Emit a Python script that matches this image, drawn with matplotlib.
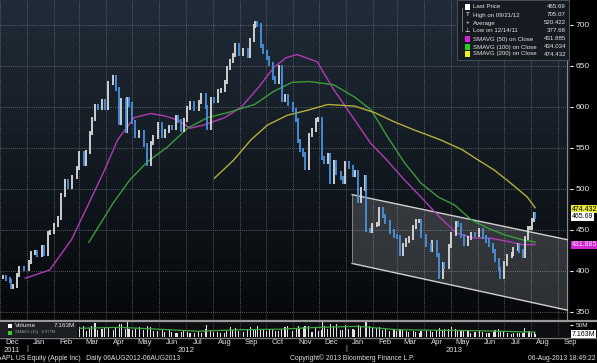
import matplotlib
matplotlib.use('Agg')
import matplotlib.pyplot as plt
import matplotlib.dates as mdates
import matplotlib.transforms as mtrans
from matplotlib.colors import LinearSegmentedColormap
from matplotlib.patches import Rectangle
import numpy as np
import pandas as pd

plt.rcParams['font.family'] = ['Liberation Sans', 'DejaVu Sans']

# price closes (every 2-3 sessions)
dates = [
    '2011-12-05', '2011-12-08', '2011-12-12', '2011-12-14', '2011-12-16', '2011-12-20', '2011-12-23', '2011-12-28', '2012-01-03', '2012-01-06',
    '2012-01-10', '2012-01-13', '2012-01-18', '2012-01-20', '2012-01-25', '2012-01-27', '2012-02-01', '2012-02-06', '2012-02-09', '2012-02-14',
    '2012-02-17', '2012-02-22', '2012-02-27', '2012-03-01', '2012-03-06', '2012-03-09', '2012-03-13', '2012-03-15', '2012-03-19', '2012-03-22',
    '2012-03-27', '2012-03-30', '2012-04-03', '2012-04-09', '2012-04-12', '2012-04-16', '2012-04-18', '2012-04-23', '2012-04-25', '2012-04-27',
    '2012-05-01', '2012-05-04', '2012-05-09', '2012-05-14', '2012-05-18', '2012-05-22', '2012-05-25', '2012-05-30', '2012-06-04', '2012-06-07',
    '2012-06-12', '2012-06-15', '2012-06-20', '2012-06-22', '2012-06-26', '2012-06-29', '2012-07-03', '2012-07-06', '2012-07-11', '2012-07-16',
    '2012-07-19', '2012-07-24', '2012-07-25', '2012-07-30', '2012-08-02', '2012-08-07', '2012-08-10', '2012-08-15', '2012-08-17', '2012-08-21',
    '2012-08-24', '2012-08-27', '2012-08-31', '2012-09-05', '2012-09-10', '2012-09-13', '2012-09-17', '2012-09-19', '2012-09-21', '2012-09-25',
    '2012-09-28', '2012-10-02', '2012-10-05', '2012-10-09', '2012-10-12', '2012-10-16', '2012-10-19', '2012-10-23', '2012-10-26', '2012-11-01',
    '2012-11-05', '2012-11-07', '2012-11-09', '2012-11-13', '2012-11-15', '2012-11-19', '2012-11-23', '2012-11-27', '2012-11-30', '2012-12-04',
    '2012-12-05', '2012-12-07', '2012-12-11', '2012-12-14', '2012-12-18', '2012-12-21', '2012-12-26', '2012-12-28', '2012-12-31', '2013-01-04',
    '2013-01-09', '2013-01-11', '2013-01-15', '2013-01-18', '2013-01-23', '2013-01-24', '2013-01-28', '2013-01-31', '2013-02-05', '2013-02-08',
    '2013-02-12', '2013-02-15', '2013-02-20', '2013-02-25', '2013-02-28', '2013-03-04', '2013-03-07', '2013-03-11', '2013-03-14', '2013-03-19',
    '2013-03-22', '2013-03-26', '2013-03-28', '2013-04-03', '2013-04-08', '2013-04-10', '2013-04-15', '2013-04-18', '2013-04-22', '2013-04-24',
    '2013-04-29', '2013-05-02', '2013-05-07', '2013-05-09', '2013-05-13', '2013-05-16', '2013-05-21', '2013-05-24', '2013-05-29', '2013-06-03',
    '2013-06-07', '2013-06-11', '2013-06-14', '2013-06-19', '2013-06-21', '2013-06-25', '2013-06-27', '2013-07-01', '2013-07-05', '2013-07-10',
    '2013-07-12', '2013-07-17', '2013-07-19', '2013-07-23', '2013-07-25', '2013-07-29', '2013-07-31', '2013-08-02', '2013-08-05', '2013-08-06',
]
closes = [
    393, 390, 388, 380, 382, 395, 403, 402, 411, 422,
    423, 419, 429, 420, 446, 447, 456, 464, 493, 509,
    502, 514, 525, 544, 530, 545, 568, 585, 601, 599,
    607, 599, 629, 636, 622, 580, 608, 571, 610, 603,
    582, 565, 569, 554, 531, 556, 563, 579, 565, 571,
    576, 574, 588, 583, 572, 584, 599, 605, 598, 606,
    614, 600, 574, 610, 607, 620, 621, 630, 648, 656,
    663, 675, 665, 670, 662, 682, 699, 702, 700, 674,
    667, 660, 652, 635, 630, 649, 609, 613, 604, 596,
    584, 558, 547, 542, 525, 566, 572, 584, 585, 576,
    538, 533, 541, 509, 533, 519, 513, 509, 532, 527,
    517, 520, 485, 500, 514, 450, 449, 456, 457, 475,
    467, 460, 448, 442, 441, 420, 431, 437, 440, 454,
    461, 461, 442, 431, 426, 435, 419, 392, 408, 405,
    430, 445, 458, 456, 443, 433, 440, 445, 444, 450,
    441, 437, 431, 424, 413, 402, 393, 409, 418, 420,
    427, 431, 424, 418, 440, 452, 452, 462, 469, 466,
]
volumes = [  # millions
    28, 26, 24, 36, 32, 22, 18, 16, 22, 20,
    18, 24, 20, 34, 62, 30, 28, 22, 40, 36,
    34, 26, 32, 40, 46, 24, 36, 44, 56, 30,
    34, 40, 36, 30, 42, 52, 54, 34, 66, 32,
    28, 34, 42, 30, 46, 42, 24, 24, 32, 22,
    28, 20, 18, 16, 22, 28, 20, 18, 16, 24,
    18, 32, 48, 24, 22, 20, 16, 16, 24, 40,
    28, 36, 24, 22, 34, 42, 30, 34, 46, 32,
    30, 26, 34, 30, 26, 24, 34, 40, 44, 24,
    36, 44, 32, 42, 46, 44, 20, 36, 24, 28,
    60, 46, 34, 52, 44, 54, 28, 28, 48, 34,
    32, 30, 50, 42, 42, 72, 46, 38, 36, 40,
    30, 32, 24, 28, 26, 32, 30, 24, 20, 26,
    20, 16, 24, 28, 24, 20, 28, 38, 28, 34,
    32, 42, 32, 28, 24, 30, 24, 18, 22, 24,
    20, 18, 18, 20, 28, 32, 24, 20, 18, 14,
    16, 18, 16, 18, 38, 26, 24, 16, 22, 14,
]

# moving averages
sma50_dates = ['2011-12-30', '2012-01-27', '2012-02-21', '2012-03-10', '2012-03-30', '2012-04-14', '2012-05-03',
               '2012-05-22', '2012-06-07', '2012-06-22', '2012-07-06', '2012-07-22', '2012-08-15', '2012-09-03',
               '2012-09-22', '2012-10-10', '2012-10-24', '2012-11-06', '2012-11-29', '2012-12-18', '2013-01-11',
               '2013-01-29', '2013-02-17', '2013-03-09', '2013-03-28', '2013-04-18', '2013-05-08', '2013-05-28',
               '2013-06-15', '2013-07-05', '2013-07-22', '2013-08-06']
sma50 = [391, 401, 438, 478, 523, 560, 587, 592, 589, 584, 574, 578, 587, 600, 623, 648, 660, 664, 655,
         621, 584, 556, 535, 511, 490, 466, 446, 440, 440, 436, 432, 432]
sma100_dates = ['2012-03-12', '2012-04-09', '2012-04-28', '2012-05-18', '2012-06-10', '2012-07-03', '2012-07-26',
                '2012-08-18', '2012-09-18', '2012-10-10', '2012-10-31', '2012-11-20', '2012-12-18', '2013-01-11',
                '2013-01-30', '2013-02-18', '2013-03-09', '2013-03-28', '2013-04-17', '2013-05-06', '2013-05-25',
                '2013-06-13', '2013-07-02', '2013-07-22', '2013-08-06']
sma100 = [435, 483, 511, 533, 551, 574, 587, 593, 603, 619, 630, 631, 627, 612, 596, 563, 532, 507, 490,
          480, 462, 452, 444, 438, 435]
sma200_dates = ['2012-08-03', '2012-08-25', '2012-09-14', '2012-10-03', '2012-10-26', '2012-11-18', '2012-12-11',
                '2013-01-11', '2013-02-03', '2013-02-25', '2013-03-20', '2013-04-19', '2013-05-14', '2013-06-02',
                '2013-06-20', '2013-07-09', '2013-07-28', '2013-08-06']
sma200 = [513, 535, 560, 578, 590, 596, 603, 601, 593, 582, 572, 560, 548, 535, 523, 507, 490, 477]
volsma_dates = ['2012-03-01', '2012-04-15', '2012-06-01', '2012-07-15', '2012-09-01', '2012-10-15',
                '2012-12-01', '2013-01-15', '2013-03-01', '2013-04-15', '2013-06-01', '2013-07-15', '2013-08-06']
volsma = [36, 40, 32, 24, 30, 32, 40, 44, 30, 28, 26, 22, 20]

# trend channel
channel_dates = ['2013-01-08', '2013-09-12']
channel_upper = [493, 438]
channel_lower = [409, 352]

legend_names = ['Last Price', 'High on 09/21/12', 'Average', 'Low on 12/14/11',
                'SMAVG (50) on Close', 'SMAVG (100) on Close', 'SMAVG (200) on Close']
legend_values = ['465.69', '705.07', '520.422', '377.68', '431.885', '434.034', '474.432']

W, H = 597, 363
fig = plt.figure(figsize=(W / 100, H / 100), dpi=100, facecolor='black')


def fx(x):
    return x / W


def fy(y):
    return 1 - y / H


def dnum(s):
    return mdates.date2num(pd.to_datetime(s, format='mixed'))


ax = fig.add_axes([0, fy(320), fx(570), 320 / H])
axv = fig.add_axes([0, fy(337), fx(570), 15 / H], sharex=ax)

d = dnum(dates)
c = np.array(closes, dtype=float)
opens = np.concatenate([[c[0]], c[:-1]])

# background gradient
cmap = LinearSegmentedColormap.from_list('bg', ['#06080a', '#131a22', '#212c38'])
grad = np.linspace(0, 1, 256).reshape(-1, 1)
ax.imshow(grad, extent=[0, 1, 0, 1], transform=ax.transAxes, aspect='auto',
          cmap=cmap, origin='lower', zorder=0)

xl = dnum(['2011-12-05 12:00', '2013-09-12 00:00'])
ax.set_xlim(*xl)
ax.set_ylim(340, 730.5)

months = pd.date_range('2011-12-01', '2013-09-01', freq='MS')
mids = months + pd.Timedelta(days=14)
ax.set_xticks(mdates.date2num(months))
ax.set_yticks(range(350, 701, 50))
ax.grid(True, color='#6c737b', linestyle=(0, (1, 1.5)), linewidth=0.6, zorder=1)
ax.tick_params(axis='x', length=0, labelbottom=False)
ax.yaxis.tick_right()
ax.tick_params(axis='y', colors='white', length=2.5, width=0.8, pad=1.5, labelsize=6,
               labelcolor='#e6e6e6')
for s in ax.spines.values():
    s.set_visible(False)
ax.axvline(xl[1], color='#8a8a8a', lw=0.8)

# channel
cd = dnum(channel_dates)
ax.fill([cd[0], cd[1], cd[1], cd[0]],
        [channel_upper[0], channel_upper[1], channel_lower[1], channel_lower[0]],
        facecolor='#ffffff', alpha=0.16, edgecolor='none', zorder=2)
ax.plot(cd, channel_upper, color='#d0d0d0', lw=1, zorder=3)
ax.plot(cd, channel_lower, color='#d0d0d0', lw=1, zorder=3)
ax.plot([cd[0], cd[0]], [channel_lower[0], channel_upper[0]], color='#909090', lw=0.6, zorder=3)

# bars
up = c >= opens
lo = np.minimum(opens, c) - 2.5
hi = np.maximum(opens, c) + 2.5
ax.vlines(d[up], lo[up], hi[up], color='#dcdcdc', lw=1.3, zorder=5)
ax.vlines(d[~up], lo[~up], hi[~up], color='#4a92e0', lw=1.3, zorder=5)

ax.plot(dnum(sma50_dates), sma50, color='#b03cb4', lw=1, zorder=4)
ax.plot(dnum(sma100_dates), sma100, color='#3a9c3a', lw=1, zorder=4)
ax.plot(dnum(sma200_dates), sma200, color='#b4ae3a', lw=1, zorder=4)

# volume panel
axv.set_facecolor('#0c0e11')
axv.bar(d, volumes, width=1.3, color='#e4e4e4', zorder=3)
axv.plot(dnum(volsma_dates), volsma, color='#3ea83e', lw=0.9, zorder=4)
axv.set_ylim(0, 62)
axv.set_xlim(*xl)
axv.set_yticks([50])
axv.set_yticklabels(['50M'])
axv.yaxis.tick_right()
axv.tick_params(axis='y', colors='white', length=2.5, width=0.8, pad=1.5, labelsize=4.6,
                labelcolor='#e6e6e6')
axv.set_xticks(mdates.date2num(months))
axv.set_xticks(mdates.date2num(mids), minor=True)
axv.set_xticklabels([], minor=False)
axv.set_xticklabels([m.strftime('%b') for m in mids], minor=True)
axv.tick_params(axis='x', which='both', length=0, labelsize=5.5, labelcolor='#e0e0e0', pad=1.5)
axv.grid(True, axis='x', which='major', color='#5a6068', linestyle=(0, (1, 1.5)), linewidth=0.6)
for s in axv.spines.values():
    s.set_visible(False)

# volume legend box
fig.patches.append(Rectangle((0, fy(337)), fx(77), 15 / H, transform=fig.transFigure,
                             facecolor='#1c2024', edgecolor='none', zorder=5))
fig.patches.append(Rectangle((fx(8), fy(327.5)), fx(4), 4 / H, transform=fig.transFigure,
                             facecolor='white', zorder=6))
fig.patches.append(Rectangle((fx(8), fy(334.5)), fx(4), 4 / H, transform=fig.transFigure,
                             facecolor='#33cc33', zorder=6))
fig.text(fx(15), fy(325.5), 'Volume', color='#e6e6e6', fontsize=4.6, va='center', zorder=7)
fig.text(fx(75), fy(325.5), '7.163M', color='#e6e6e6', fontsize=4.6, va='center', ha='right', zorder=7)
fig.text(fx(15), fy(332), 'SMAVG (15)   8.977M', color='#9a9a9a', fontsize=3, va='center', zorder=7)

# separators
fig.add_artist(plt.Line2D([0, 1], [fy(320.5), fy(320.5)], color='#9a9a9a', lw=1.6, transform=fig.transFigure))
fig.add_artist(plt.Line2D([0, 1], [fy(337.5), fy(337.5)], color='#7a7a7a', lw=1, transform=fig.transFigure))


# value tags on the right
def tag(y, txt, fc, tc):
    fig.text(fx(571.5), fy(y), txt, fontsize=5, color=tc, va='center', ha='left',
             bbox=dict(boxstyle='square,pad=0.12', facecolor=fc, edgecolor='none'))


tag(209, '474.432', '#e8e83a', 'black')
tag(216.5, '465.69', 'white', 'black')
tag(245, '431.885', '#d22ad2', '#ffd8ff')
tag(334, '7.163M', 'white', 'black')

# price legend
fig.patches.append(Rectangle((fx(457), fy(60)), fx(112), 60 / H, transform=fig.transFigure,
                             facecolor='#161b21', edgecolor='#50565c', lw=0.6, zorder=5))
ys = [7, 15, 23, 31, 39, 47, 54]
marks = ['sq', 'T', '+', '⊥', 'sq', 'sq', 'sq']
mcols = ['white', 'white', 'white', 'white', '#e020e0', '#22d022', '#f0f020']
for yy, name, val, mk, mc in zip(ys, legend_names, legend_values, marks, mcols):
    if mk == 'sq':
        fig.patches.append(Rectangle((fx(465), fy(yy + 2.5)), fx(5), 5 / H, transform=fig.transFigure,
                                     facecolor=mc, edgecolor='none', zorder=6))
    else:
        fig.text(fx(467.5), fy(yy), mk, color=mc, fontsize=4.6, ha='center', va='center', zorder=6)
    fig.text(fx(473), fy(yy), name, color='#e6e6e6', fontsize=4.4, va='center', zorder=6)
    fig.text(fx(566), fy(yy), val, color='#e6e6e6', fontsize=4.4, va='center', ha='right', zorder=6)
fig.add_artist(plt.Line2D([fx(462), fx(462)], [fy(8), fy(31)], color='#9a9a9a', lw=0.5,
                          transform=fig.transFigure, zorder=6))

# year labels
bt = mtrans.blended_transform_factory(axv.transData, fig.transFigure)
for yd, txt in [('2011-12-15', '2011'), ('2012-07-01', '2012'), ('2013-05-05', '2013')]:
    axv.text(dnum(yd), fy(350), txt, transform=bt, fontsize=5.5,
             color='#e0e0e0', ha='center', va='center')
for yd in ['2012-01-01', '2013-01-01']:
    axv.text(dnum(yd), fy(349), '|', transform=bt, fontsize=5,
             color='#c0c0c0', ha='center', va='center')

# footer
fig.text(fx(-3), fy(358.5), 'AAPL US Equity (Apple Inc)   Daily 06AUG2012-06AUG2013', color='#e0e0e0',
         fontsize=4.9, va='center')
fig.text(fx(290), fy(358.5), 'Copyright\u00a9 2013 Bloomberg Finance L.P.', color='#e0e0e0',
         fontsize=4.9, va='center')
fig.text(fx(596), fy(358.5), '06-Aug-2013 18:49:22', color='#e0e0e0', fontsize=4.9, va='center', ha='right')

fig.savefig('out.png', dpi=100, facecolor='black')
